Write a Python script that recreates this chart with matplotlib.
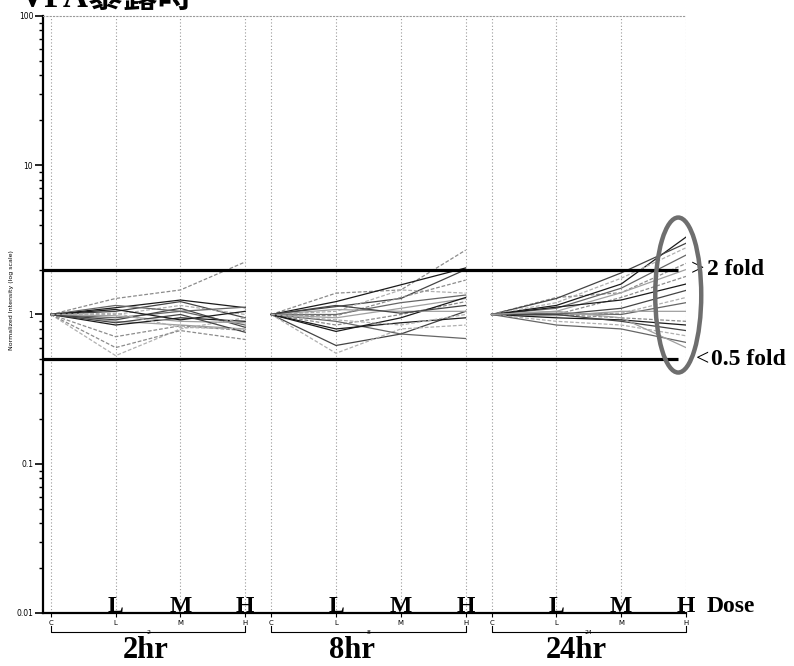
import numpy as np
import matplotlib.pyplot as plt
import matplotlib.transforms as mtransforms
from matplotlib.patches import Ellipse
from matplotlib.ticker import NullFormatter

# dose points and time groups
doses = ['C', 'L', 'M', 'H']
times = ['2', '8', '24']
time_titles = ['2hr', '8hr', '24hr']
fold_lines = [2.0, 0.5]
fold_texts = ['2 fold', '0.5 fold']

# normalized intensity per gene (C, L, M, H)
int_2hr = [
    [1.0, 1.28, 1.46, 2.25],
    [1.0, 1.11, 1.25, 1.11],
    [1.0, 1.05, 1.22, 0.95],
    [1.0, 1.00, 1.15, 1.00],
    [1.0, 0.95, 1.05, 0.85],
    [1.0, 0.90, 0.85, 0.80],
    [1.0, 0.71, 0.84, 0.78],
    [1.0, 0.85, 0.95, 0.90],
    [1.0, 0.92, 1.10, 0.82],
    [1.0, 0.53, 0.80, 0.95],
    [1.0, 1.15, 1.05, 1.12],
    [1.0, 0.98, 0.90, 0.88],
    [1.0, 0.60, 0.78, 0.68],
    [1.0, 1.08, 0.92, 1.05],
    [1.0, 0.88, 1.00, 0.76],
    [1.0, 1.02, 0.82, 0.80],
]
int_8hr = [
    [1.0, 1.39, 1.46, 2.70],
    [1.0, 1.22, 1.58, 2.05],
    [1.0, 1.13, 1.28, 2.00],
    [1.0, 1.05, 1.46, 1.39],
    [1.0, 1.00, 1.20, 1.35],
    [1.0, 0.95, 1.10, 1.28],
    [1.0, 0.85, 1.00, 1.22],
    [1.0, 0.77, 0.95, 1.30],
    [1.0, 0.62, 0.74, 1.05],
    [1.0, 0.55, 0.80, 0.85],
    [1.0, 0.90, 0.74, 0.69],
    [1.0, 1.08, 1.05, 1.05],
    [1.0, 0.98, 1.30, 1.70],
    [1.0, 0.80, 0.88, 0.95],
    [1.0, 1.15, 1.02, 1.15],
    [1.0, 0.92, 0.85, 1.00],
]
int_24hr = [
    [1.0, 1.30, 1.40, 2.20],
    [1.0, 1.15, 1.60, 3.30],
    [1.0, 1.28, 1.90, 3.00],
    [1.0, 1.20, 1.75, 2.80],
    [1.0, 1.10, 1.50, 2.50],
    [1.0, 1.05, 1.40, 2.00],
    [1.0, 1.00, 1.30, 1.80],
    [1.0, 1.12, 1.25, 1.60],
    [1.0, 1.00, 1.10, 1.45],
    [1.0, 1.00, 1.02, 1.30],
    [1.0, 1.02, 1.00, 1.20],
    [1.0, 0.98, 1.05, 1.05],
    [1.0, 1.00, 0.95, 0.90],
    [1.0, 0.95, 0.92, 0.85],
    [1.0, 1.00, 0.90, 0.78],
    [1.0, 0.90, 0.85, 0.72],
    [1.0, 0.85, 0.80, 0.65],
    [1.0, 1.05, 0.95, 0.60],
]
panels = [int_2hr, int_8hr, int_24hr]

shades = ['#8c8c8c', '#1a1a1a', '#444444', '#b0b0b0', '#666666', '#a0a0a0']
serif = ['Liberation Serif', 'DejaVu Serif']

fig = plt.figure(figsize=(7.94, 6.66), dpi=100)
ax = fig.add_axes([0.0542, 0.0796, 0.8098, 0.8964])
ax.set_yscale('log')
ax.set_ylim(0.01, 100)
ax.set_xlim(-0.12, 9.8)

step = 3.4
xticks = []
for p, panel in enumerate(panels):
    xs = p * step + np.arange(len(doses))
    xticks.extend(xs)
    for i, row in enumerate(panel):
        c = shades[i % len(shades)]
        ls = (0, (3, 1.5)) if i % 3 == 0 else '-'
        ax.plot(xs, row, color=c, lw=0.9, ls=ls, zorder=2)

# dotted grid at dose positions
for x in xticks:
    ax.axvline(x, color='#9a9a9a', lw=0.8, ls=(0, (1, 2)), zorder=0)

# fold-change lines
ax.hlines(fold_lines, -0.12, 9.68, color='black', lw=2.3, zorder=3)

ax.spines['right'].set_visible(False)
ax.spines['top'].set_linestyle((0, (1, 2)))
ax.spines['top'].set_color('#9a9a9a')
ax.spines['left'].set_linewidth(1.6)
ax.spines['bottom'].set_linewidth(1.6)

ax.set_yticks([0.01, 0.1, 1, 10, 100])
ax.set_yticklabels(['0.01', '0.1', '1', '10', '100'])
ax.yaxis.set_minor_formatter(NullFormatter())
ax.tick_params(axis='y', which='major', length=6, width=1.2, labelsize=5.5, pad=1)
ax.tick_params(axis='y', which='minor', length=3, width=1.0)
ax.set_xticks(xticks)
ax.set_xticklabels(doses * len(times))
ax.tick_params(axis='x', length=3, width=0.8, labelsize=5, pad=2)

fig.text(12 / 794, 1 - 300 / 666, 'Normalized Intensity (log scale)',
         rotation=90, fontsize=4.5, ha='center', va='center')

# big dose letters above the axis
for p in range(len(panels)):
    for d, lab in enumerate(doses[1:], start=1):
        ax.text(p * step + d, 0.0102, lab, ha='center', va='baseline',
                fontsize=17, fontweight='bold', family=serif)
ax.text(10.12, 0.0102, 'Dose', ha='left', va='baseline', fontsize=17,
        fontweight='bold', family=serif, clip_on=False)

# brackets under each time group
trans = mtransforms.blended_transform_factory(ax.transData, ax.transAxes)
title_shift = [-0.04, -0.25, -0.2]
for p, t in enumerate(times):
    x0, x1 = p * step, p * step + 3
    ax.plot([x0, x0, x1, x1], [-0.021, -0.032, -0.032, -0.021],
            color='black', lw=0.8, transform=trans, clip_on=False)
    ax.text((x0 + x1) / 2, -0.032, t, fontsize=4.5, ha='center', va='center',
            transform=trans)
    ax.text((x0 + x1) / 2 + title_shift[p], -0.0755, time_titles[p],
            fontsize=22, fontweight='bold', family=serif, ha='center',
            va='baseline', transform=trans)

# fold labels
ax.text(9.88, fold_lines[0], '>', fontsize=17, family=serif, ha='left',
        va='center', clip_on=False)
ax.text(10.13, fold_lines[0], fold_texts[0], fontsize=17, fontweight='bold',
        family=serif, ha='left', va='center', clip_on=False)
ax.text(9.95, fold_lines[1], '<', fontsize=17, family=serif, ha='left',
        va='center', clip_on=False)
ax.text(10.18, fold_lines[1], fold_texts[1], fontsize=17, fontweight='bold',
        family=serif, ha='left', va='center', clip_on=False)

# ellipse round the 24hr H responses
cx, cy = fig.transFigure.inverted().transform(ax.transData.transform((9.68, 1.35)))
ell = Ellipse((cx, cy), width=46 / 794, height=155 / 666,
              transform=fig.transFigure, fill=False, edgecolor='#6e6e6e', lw=3.2,
              zorder=5)
fig.patches.append(ell)

# title, cut off at the top like the scan
fig.text(20 / 794, 1 - 7 / 666, 'VPA暴露時', fontsize=25, fontweight='bold',
         family=['Liberation Serif', 'Noto Sans CJK JP'], ha='left', va='baseline')

fig.savefig('out.png', dpi=100)
